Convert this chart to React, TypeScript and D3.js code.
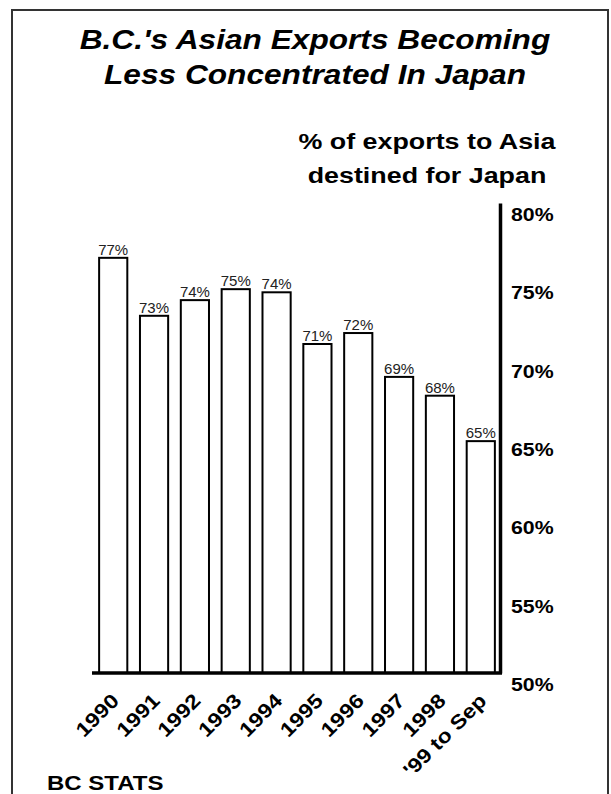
import { useEffect, useRef } from "react";
import * as d3 from "d3";

const years = ["1990", "1991", "1992", "1993", "1994", "1995", "1996", "1997", "1998", "'99 to Sep"];
const japanShare = [76.5, 72.8, 73.8, 74.5, 74.3, 71.0, 71.7, 68.9, 67.7, 64.8];
const yTicks = [50, 55, 60, 65, 70, 75, 80];
const titleLines = ["B.C.'s Asian Exports Becoming", "Less Concentrated In Japan"];
const axisTitleLines = ["% of exports to Asia", "destined for Japan"];
const sourceNote = "BC STATS";

const WIDTH = 611;
const HEIGHT = 794;
const FONT = "Arial, 'Liberation Sans', Helvetica, sans-serif";

// the original artwork has its bold lettering stretched sideways a bit
const widen = (sel: d3.Selection<any, any, any, any>, factor: number) => {
  sel.each(function () {
    const node = this as SVGTextElement;
    const len = node.getComputedTextLength();
    d3.select(node).attr("textLength", len * factor).attr("lengthAdjust", "spacingAndGlyphs");
  });
};

export default function App() {
  const svgRef = useRef<SVGSVGElement | null>(null);

  useEffect(() => {
    if (!svgRef.current) return;
    const svg = d3.select(svgRef.current);
    svg.selectAll("*").remove();

    const x = d3
      .scaleBand<string>()
      .domain(years)
      .range([93, 501])
      .paddingInner(0.31)
      .paddingOuter(0.15);
    const y = d3.scaleLinear().domain([50, 80]).range([673, 203]);

    // frame
    svg
      .append("rect")
      .attr("x", 12)
      .attr("y", 10)
      .attr("width", 596)
      .attr("height", 800)
      .attr("fill", "#fff")
      .attr("stroke", "#333")
      .attr("stroke-width", 2);

    // title
    const title = svg
      .append("g")
      .selectAll("text")
      .data(titleLines)
      .join("text")
      .attr("x", 315)
      .attr("y", (_d, i) => 49 + i * 35)
      .attr("text-anchor", "middle")
      .style("font-family", FONT)
      .style("font-size", "28px")
      .style("font-weight", "bold")
      .style("font-style", "italic")
      .text((d) => d);
    widen(title, 1.13);

    const axisTitle = svg
      .append("g")
      .selectAll("text")
      .data(axisTitleLines)
      .join("text")
      .attr("x", 427)
      .attr("y", (_d, i) => 149 + i * 34)
      .attr("text-anchor", "middle")
      .style("font-family", FONT)
      .style("font-size", "22px")
      .style("font-weight", "bold")
      .text((d) => d);
    widen(axisTitle, 1.22);

    // bars
    svg
      .append("g")
      .selectAll("rect")
      .data(japanShare)
      .join("rect")
      .attr("x", (_d, i) => x(years[i])!)
      .attr("y", (d) => y(d))
      .attr("width", x.bandwidth())
      .attr("height", (d) => y(50) - y(d))
      .attr("fill", "#fff")
      .attr("stroke", "#000")
      .attr("stroke-width", 2);

    svg
      .append("g")
      .selectAll("text")
      .data(japanShare)
      .join("text")
      .attr("x", (_d, i) => x(years[i])! + x.bandwidth() / 2)
      .attr("y", (d) => y(d) - 3)
      .attr("text-anchor", "middle")
      .style("font-family", FONT)
      .style("font-size", "15px")
      .style("fill", "#222")
      .text((d) => `${Math.round(d)}%`);

    // right axis
    const axis = svg
      .append("g")
      .attr("transform", "translate(500,0)")
      .call(
        d3
          .axisRight(y)
          .tickValues(yTicks)
          .tickSize(0)
          .tickPadding(11)
          .tickFormat((d) => `${d}%`)
      );
    axis.select(".domain").attr("stroke", "#000").attr("stroke-width", 3.5);
    const tickText = axis
      .selectAll("text")
      .attr("dy", "0.95em")
      .style("font-family", FONT)
      .style("font-size", "18.5px")
      .style("font-weight", "bold")
      .style("fill", "#000");
    widen(tickText, 1.15);

    // baseline
    svg
      .append("line")
      .attr("x1", 92)
      .attr("x2", 502)
      .attr("y1", y(50))
      .attr("y2", y(50))
      .attr("stroke", "#000")
      .attr("stroke-width", 3.5);

    // category labels
    const cats = svg
      .append("g")
      .selectAll("text")
      .data(years)
      .join("text")
      .attr("transform", (d) => `translate(${x(d)! + x.bandwidth() / 2 + 7},${y(50) + 29}) rotate(-45)`)
      .attr("text-anchor", "end")
      .style("font-family", FONT)
      .style("font-size", "20px")
      .style("font-weight", "bold")
      .text((d) => d);
    widen(cats, 1.15);

    const note = svg
      .append("text")
      .attr("x", 47)
      .attr("y", 790)
      .style("font-family", FONT)
      .style("font-size", "20px")
      .style("font-weight", "bold")
      .text(sourceNote);
    widen(note, 1.2);
  }, []);

  return (
    <div style={{ position: "absolute", left: 0, top: 0 }}>
      <svg ref={svgRef} width={WIDTH} height={HEIGHT} style={{ display: "block", background: "#fff" }} />
    </div>
  );
}
